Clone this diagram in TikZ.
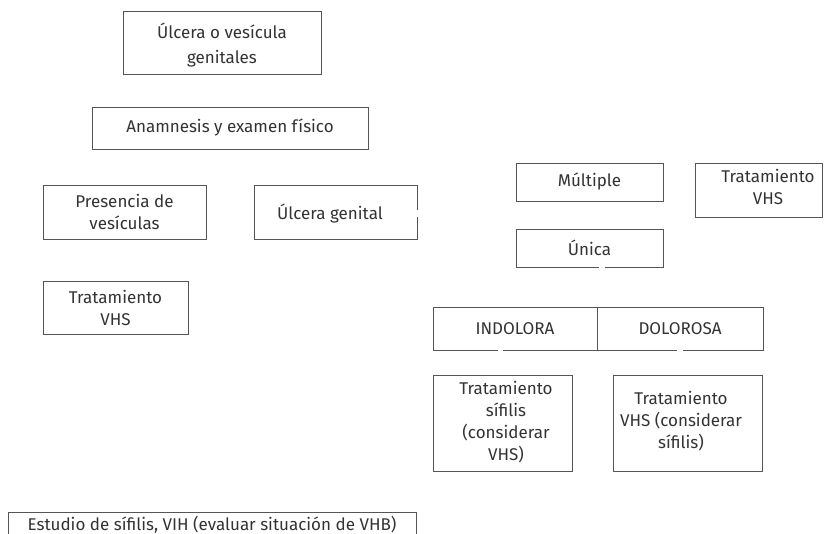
\documentclass[tikz,border=0pt]{standalone}
\usepackage{fontspec}
\setmainfont{Fira Sans}
\definecolor{txt}{HTML}{333333}
\definecolor{edge}{HTML}{555555}
\begin{document}
\begin{tikzpicture}[x=1pt,y=-1pt,
  box/.style={draw=edge, line width=0.9pt, rectangle, inner sep=0pt, align=center, text=txt,
    font=\fontsize{17}{22}\selectfont},
  lbl/.style={inner sep=0pt, align=center, text=txt, font=\fontsize{17}{22}\selectfont},
  gap/.style={draw=white, line width=2pt}]
\useasboundingbox (0,0) rectangle (837,534);
\clip (0,0) rectangle (837,534);
\fill[white] (0,0) rectangle (837,534);

\node[box, minimum width=198pt, minimum height=63pt] (ulcves) at (222,42.5) {};
\node[lbl, font=\fontsize{17}{25}\selectfont] (ulcvest) at (222,45) {Úlcera o vesícula\\genitales};
\node[box, minimum width=276pt, minimum height=42pt] (anam) at (230,128) {Anamnesis y examen físico};
\node[box, minimum width=163pt, minimum height=54pt] (pres) at (124.5,212) {Presencia de\\vesículas};
\node[box, minimum width=163pt, minimum height=54pt] (ulcg) at (335.5,212) {};
\node[lbl] (ulcgt) at (330,214) {Úlcera genital};
\node[box, minimum width=145pt, minimum height=53pt] (tvhs1) at (115.5,307.5) {Tratamiento\\VHS};
\node[box, minimum width=147pt, minimum height=38pt] (mult) at (589.5,182) {Múltiple};
\node[box, minimum width=127pt, minimum height=54pt] (tvhs2) at (758.5,190) {};
\node[lbl] (tvhs2t) at (768,187) {Tratamiento\\VHS};
\node[box, minimum width=147pt, minimum height=38pt] (unica) at (589.5,248) {Única};
\node[box, minimum width=164pt, minimum height=43pt] (indol) at (515,328.5) {INDOLORA};
\node[box, minimum width=166pt, minimum height=43pt] (dolor) at (680,328.5) {DOLOROSA};
\node[box, minimum width=139pt, minimum height=96pt] (tsif) at (502.5,423) {};
\node[lbl] (tsift) at (506,422) {Tratamiento\\sífilis\\(considerar\\VHS)};
\node[box, minimum width=149pt, minimum height=96pt] (tvhs3) at (687.5,423) {};
\node[lbl] (tvhs3t) at (681,421) {Tratamiento\\VHS (considerar\\sífilis)};
\node[box, minimum width=408pt, minimum height=50pt] (estud) at (212,537) {};
\node[lbl] (estudt) at (212,525) {Estudio de sífilis, VIH (evaluar situación de VHB)};

% gaps left by removed connectors
\draw[gap] (ulcg.east) ++(0,-2) -- ++(0,7);
\draw[gap] (599,267) -- ++(6,0);
\draw[gap] (498,350) -- ++(5,0);
\draw[gap] (677,350) -- ++(6,0);
\end{tikzpicture}
\end{document}
